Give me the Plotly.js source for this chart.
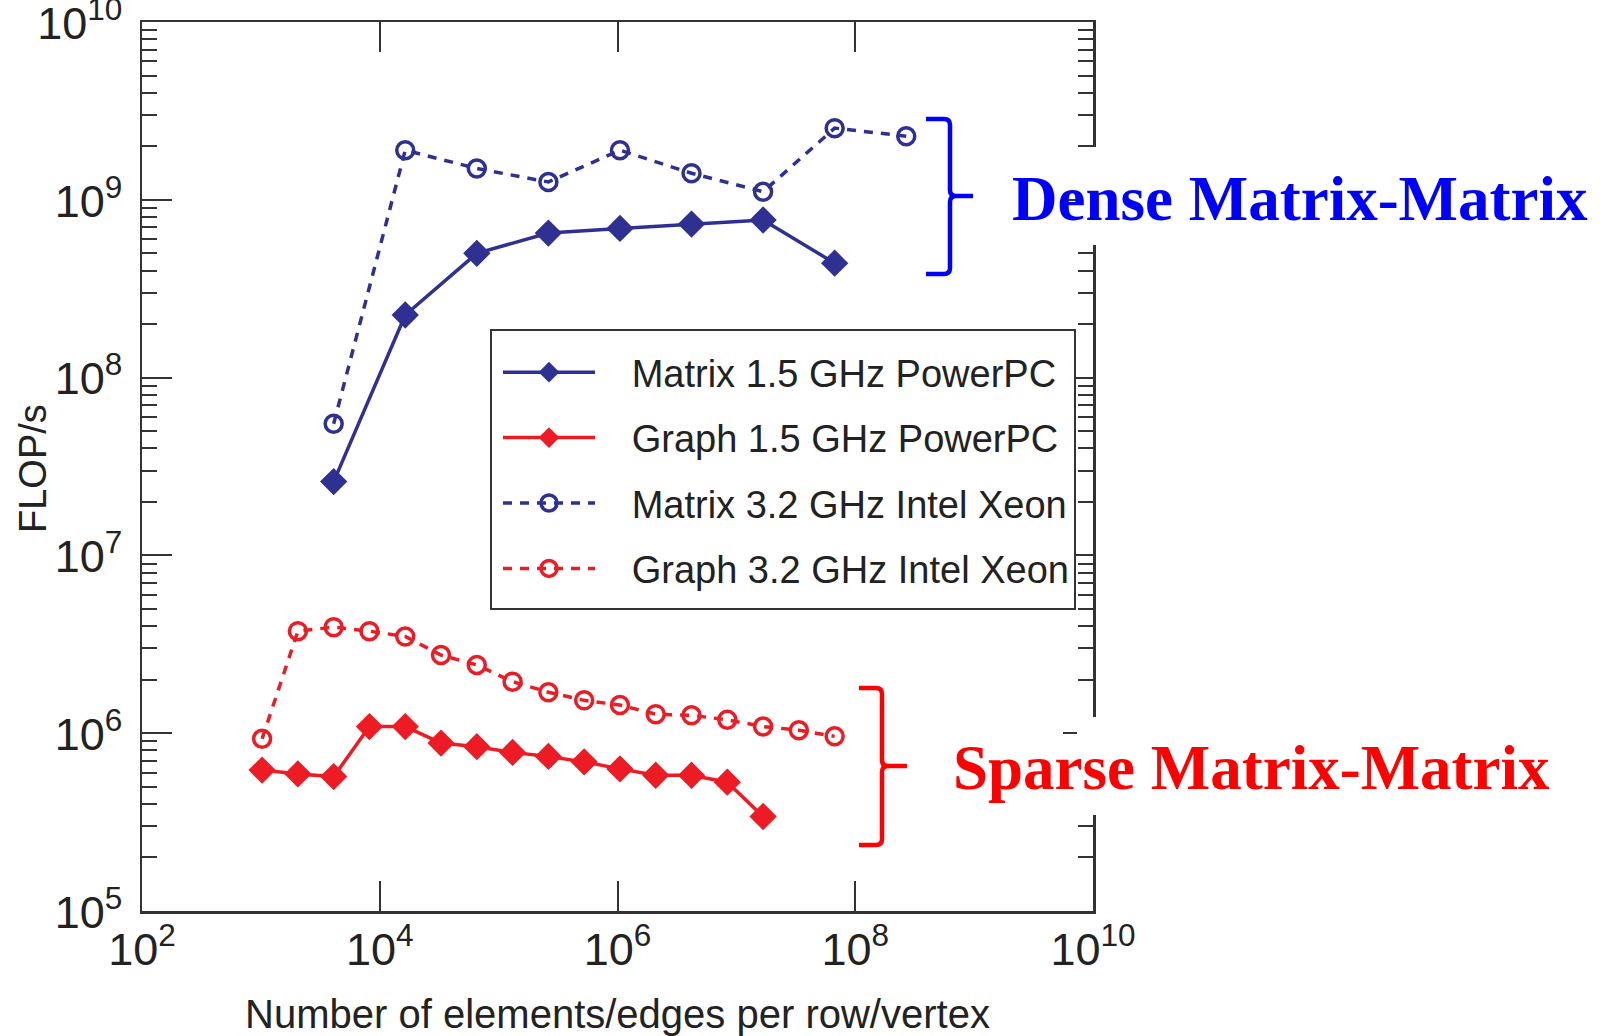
<!DOCTYPE html>
<html>
<head>
<meta charset="utf-8">
<script src="https://cdn.plot.ly/plotly-3.0.1.min.js"></script>
<style>
  html, body { margin: 0; padding: 0; background: #ffffff; }
  #chart { width: 1600px; height: 1036px; }
</style>
</head>
<body>
<div id="chart"></div>
<script>
// ---- data ----
const xMatrixPPC   = [4096, 16384, 65536, 262144, 1048576, 4194304, 16777216, 67108864];
const yMatrixPPC   = [2.6e7, 2.25e8, 5.0e8, 6.5e8, 6.9e8, 7.3e8, 7.7e8, 4.4e8];

const xMatrixXeon  = [4096, 16384, 65536, 262144, 1048576, 4194304, 16777216, 67108864, 268435456];
const yMatrixXeon  = [5.5e7, 1.9e9, 1.5e9, 1.26e9, 1.9e9, 1.41e9, 1.11e9, 2.53e9, 2.28e9];

const xGraphPPC    = [1024, 2048, 4096, 8192, 16384, 32768, 65536, 131072, 262144, 524288,
                      1048576, 2097152, 4194304, 8388608, 16777216];
const yGraphPPC    = [6.2e5, 5.9e5, 5.7e5, 1.09e6, 1.09e6, 8.8e5, 8.4e5, 7.8e5, 7.4e5, 6.9e5,
                      6.3e5, 5.8e5, 5.8e5, 5.3e5, 3.4e5];

const xGraphXeon   = [1024, 2048, 4096, 8192, 16384, 32768, 65536, 131072, 262144, 524288,
                      1048576, 2097152, 4194304, 8388608, 16777216, 33554432, 67108864];
const yGraphXeon   = [9.3e5, 3.75e6, 3.95e6, 3.75e6, 3.5e6, 2.75e6, 2.42e6, 1.95e6, 1.70e6, 1.53e6,
                      1.44e6, 1.28e6, 1.26e6, 1.19e6, 1.09e6, 1.04e6, 9.6e5];

const seriesNames  = ["Matrix 1.5 GHz PowerPC", "Graph 1.5 GHz PowerPC",
                      "Matrix 3.2 GHz Intel Xeon", "Graph 3.2 GHz Intel Xeon"];
const xTitle = "Number of elements/edges per row/vertex";
const yTitle = "FLOP/s";
const denseLabel  = "Dense Matrix-Matrix";
const sparseLabel = "Sparse Matrix-Matrix";

// ---- styling ----
const BLUE = "#2E3192";
const RED  = "#ED1C24";
const AXIS = "#333333";
const TXT  = "#222222";
const SANS = "'Liberation Sans', Arial, Helvetica, sans-serif";
const SERIF = "'Liberation Serif', 'Times New Roman', serif";
const GAP = "\u00a0\u00a0\u00a0";

// plot area in pixels
const L = 142, R = 1093, T = 22, B = 911;
const px = X => (X - L) / (R - L);
const py = Y => (B - Y) / (B - T);

function solid(name, x, y, color, grp) {
  return {
    type: "scatter", mode: "lines+markers", name: GAP + name, x, y, legendgroup: grp,
    line: { color, width: 3.5 },
    marker: { symbol: "diamond", size: 21, color, line: { width: 0 } }
  };
}
function dashed(name, x, y, color, grp) {
  return {
    type: "scatter", mode: "lines+markers", name: GAP + name, x, y, legendgroup: grp,
    line: { color, width: 3.5, dash: "9px,8px" },
    marker: { symbol: "circle-open", size: 17, color, line: { width: 3.5, color } }
  };
}

const traces = [
  solid(seriesNames[0], xMatrixPPC, yMatrixPPC, BLUE, "a"),
  solid(seriesNames[1], xGraphPPC, yGraphPPC, RED, "b"),
  dashed(seriesNames[2], xMatrixXeon, yMatrixXeon, BLUE, "c"),
  dashed(seriesNames[3], xGraphXeon, yGraphXeon, RED, "d")
];

function bracePath(xl, xv, xn, yt, yb, ym, r) {
  const P = (X, Y) => px(X).toFixed(5) + "," + py(Y).toFixed(5);
  return "M" + P(xl, yt) + " L" + P(xv - r, yt) + " Q" + P(xv, yt) + " " + P(xv, yt + r) +
         " L" + P(xv, ym - r) + " Q" + P(xv, ym) + " " + P(xv + r, ym) + " L" + P(xn, ym) +
         " M" + P(xv + r, ym) + " Q" + P(xv, ym) + " " + P(xv, ym + r) +
         " L" + P(xv, yb - r) + " Q" + P(xv, yb) + " " + P(xv - r, yb) + " L" + P(xl, yb);
}

const layout = {
  width: 1600, height: 1036,
  margin: { l: L, r: 1600 - R, t: T, b: 1036 - B, pad: 0 },
  paper_bgcolor: "#ffffff", plot_bgcolor: "#ffffff",
  showlegend: true,
  font: { family: SANS, color: TXT },
  xaxis: {
    type: "log", range: [2, 10], dtick: 2,
    exponentformat: "power", showexponent: "all",
    showgrid: false, zeroline: false,
    showline: true, linecolor: AXIS, linewidth: 2.5, mirror: "ticks",
    ticks: "inside", ticklen: 30, tickwidth: 2, tickcolor: AXIS,
    tickfont: { size: 36, family: SANS, color: TXT },
    ticklabelstandoff: -1, ticklabeloverflow: "allow",
    title: { text: xTitle, font: { size: 40, family: SANS, color: TXT }, standoff: 27 }
  },
  yaxis: {
    type: "log", range: [5, 10], dtick: 1,
    exponentformat: "power", showexponent: "all",
    showgrid: false, zeroline: false,
    showline: true, linecolor: AXIS, linewidth: 2.5, mirror: "ticks",
    ticks: "inside", ticklen: 30, tickwidth: 2, tickcolor: AXIS,
    minor: { ticks: "inside", ticklen: 15, tickwidth: 2, tickcolor: AXIS, dtick: "D1", showgrid: false },
    tickfont: { size: 36, family: SANS, color: TXT },
    ticklabelstandoff: 10, ticklabelshift: 1, ticklabeloverflow: "allow"
  },
  legend: {
    x: px(498), y: py(341), xanchor: "left", yanchor: "top",
    bgcolor: "rgba(0,0,0,0)", borderwidth: 0,
    font: { size: 38, family: SANS, color: TXT },
    traceorder: "grouped", tracegroupgap: 13, itemwidth: 92
  },
  shapes: [
    // legend frame
    { type: "rect", xref: "paper", yref: "paper", layer: "above",
      x0: px(491), x1: px(1075), y0: py(609), y1: py(330),
      fillcolor: "#ffffff", line: { width: 2, color: AXIS } },
    // white patches over the right axis behind the pasted labels
    { type: "rect", xref: "paper", yref: "paper", layer: "above",
      x0: px(1077), x1: px(1110), y0: py(245), y1: py(147),
      fillcolor: "#ffffff", line: { width: 0 } },
    { type: "rect", xref: "paper", yref: "paper", layer: "above",
      x0: px(1077), x1: px(1110), y0: py(815), y1: py(717),
      fillcolor: "#ffffff", line: { width: 0 } },
    { type: "path", xref: "paper", yref: "paper", layer: "above",
      path: bracePath(926, 950, 973, 119, 274, 196, 6),
      line: { color: "#0000FF", width: 4.5 } },
    { type: "path", xref: "paper", yref: "paper", layer: "above",
      path: bracePath(859, 882, 907, 688, 845, 766, 6),
      line: { color: "#FF0000", width: 4.5 } }
  ],
  annotations: [
    { xref: "paper", yref: "paper", x: px(33), y: py(469), xanchor: "center", yanchor: "middle",
      text: yTitle, textangle: -90, showarrow: false,
      font: { family: SANS, size: 38, color: TXT } },
    { xref: "paper", yref: "paper", x: px(1300), y: py(199), xanchor: "center", yanchor: "middle",
      text: "<b>" + denseLabel + "</b>", showarrow: false,
      font: { family: SERIF, size: 63, color: "#0000FF" } },
    { xref: "paper", yref: "paper", x: px(1251), y: py(768), xanchor: "center", yanchor: "middle",
      text: "<b>" + sparseLabel + "</b>", showarrow: false,
      font: { family: SERIF, size: 63, color: "#FF0000" } }
  ]
};

Plotly.newPlot("chart", traces, layout, { staticPlot: true, displayModeBar: false });
</script>
</body>
</html>
